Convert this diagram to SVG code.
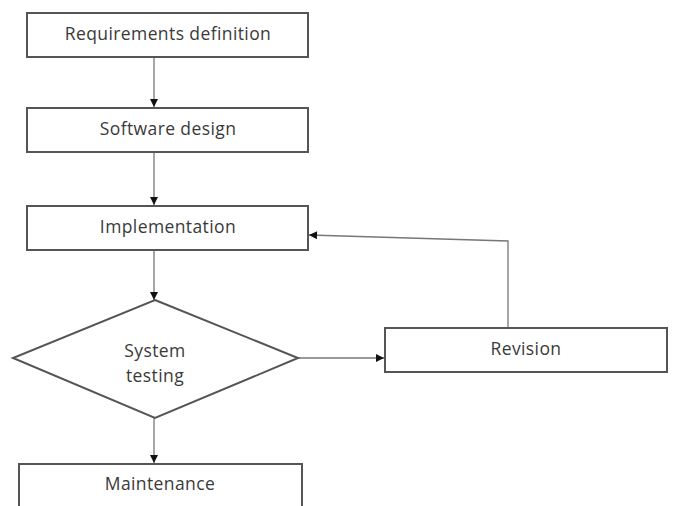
<svg xmlns="http://www.w3.org/2000/svg" width="674" height="506" viewBox="0 0 674 506">
<defs>
<marker id="ah" markerWidth="10" markerHeight="10" refX="9" refY="5" orient="auto" markerUnits="userSpaceOnUse">
<path d="M1,1 L9,5 L1,9 Z" fill="#111"/>
</marker>
<style>
.n{fill:#fff;stroke:#555;stroke-width:2}
.t{font-family:"Open Sans","Liberation Sans",sans-serif;font-size:17.5px;letter-spacing:0.4px;fill:#3a3a3a;text-anchor:middle}
.c{fill:none;stroke:#777;stroke-width:1.3;marker-end:url(#ah)}
</style>
</defs>
<rect width="674" height="506" fill="#fff"/>
<g id="connectors">
<line class="c" x1="154" y1="57" x2="154" y2="107"/>
<line class="c" x1="154" y1="152" x2="154" y2="205"/>
<line class="c" x1="154" y1="250" x2="154" y2="300"/>
<line class="c" x1="154" y1="418" x2="154" y2="463"/>
<line class="c" x1="298" y1="358" x2="384" y2="358"/>
<polyline class="c" points="508,328 508,241 309,235"/>
</g>
<g id="requirements">
<rect class="n" x="27" y="13" width="281" height="44"/>
<text class="t" x="168" y="39.5">Requirements definition</text>
</g>
<g id="design">
<rect class="n" x="27" y="108" width="281" height="44"/>
<text class="t" x="168" y="134.5">Software design</text>
</g>
<g id="implementation">
<rect class="n" x="27" y="206" width="281" height="44"/>
<text class="t" x="168" y="232.5">Implementation</text>
</g>
<g id="testing">
<polygon class="n" points="155,300 298,358 155,418 13,358"/>
<text class="t" x="155" y="356.5">System</text>
<text class="t" x="155" y="381.5">testing</text>
</g>
<g id="revision">
<rect class="n" x="385" y="328" width="282" height="44"/>
<text class="t" x="526" y="354.5">Revision</text>
</g>
<g id="maintenance">
<rect class="n" x="19" y="464" width="283" height="50"/>
<text class="t" x="160" y="489.5">Maintenance</text>
</g>
</svg>
